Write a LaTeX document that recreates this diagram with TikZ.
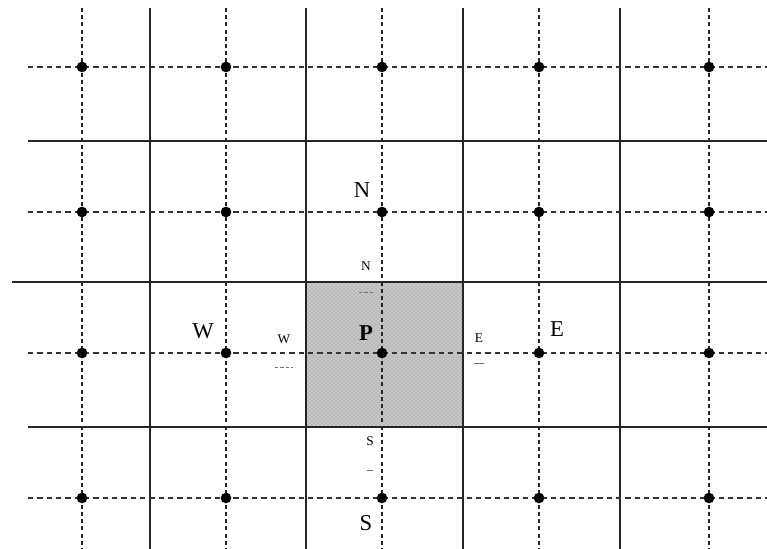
\documentclass[tikz,border=0pt]{standalone}
\usepackage{fontspec}
\setmainfont{Liberation Serif}
\usetikzlibrary{positioning,patterns}
\tikzset{
  gridline/.style={line width=1.3pt, draw=black!85},
  vdash/.style={line width=1.7pt, draw=black!85, dash pattern=on 3pt off 2.4pt},
  hdash/.style={line width=1pt, draw=black!80, dash pattern=on 4pt off 3pt},
  cellfill/.style={fill=black!22},
  cellhatch/.style={pattern=crosshatch dots, pattern color=black!45},
  gpoint/.style={circle, fill=black, inner sep=0pt, minimum size=8pt},
  biglabel/.style={font=\fontsize{17}{17}\selectfont, inner sep=0pt},
  smalllabel/.style={font=\fontsize{10}{10}\selectfont, inner sep=0pt},
  facebar/.style={line width=0.6pt, draw=black!55, dash pattern=on 2.5pt off 1.5pt}
}
\begin{document}
\begin{tikzpicture}[x=0.75pt, y=-0.75pt]
    \useasboundingbox (0,0) rectangle (767,549);
    % control volume around P
    \fill[cellfill] (306,283) rectangle (463,427);
    \fill[cellhatch] (306,283) rectangle (463,427);

    % cell faces
    \foreach \x in {150,306,463,620}
      \draw[gridline] (\x,8) -- (\x,549);
    \draw[gridline] (28,141) -- (767,141);
    \draw[gridline] (12,282) -- (767,282);
    \draw[gridline] (28,427) -- (767,427);

    % grid lines through the nodes
    \foreach \x in {82,226,382,539,709}
      \draw[vdash] (\x,8) -- (\x,549);
    \foreach \y in {67,212,353,498}
      \draw[hdash] (28,\y) -- (767,\y);

    % grid points
    \foreach \x in {82,226,382,539,709}
      \foreach \y in {67,212,353,498}
        \node[gpoint] at (\x,\y) {};
    \coordinate (P) at (382,353);

    % node labels
    \node[biglabel] (lN) at (362,190) {N};
    \node[biglabel] (lW) at (203,331) {W};
    \node[biglabel, font=\fontsize{17}{17}\selectfont\bfseries] (lP) at (366,333) {P};
    \node[biglabel] (lE) at (557,329) {E};
    \node[biglabel] (lS) at (366,523) {S};

    % face labels
    \node[smalllabel] (fn) at (366,266) {N};
    \node[smalllabel] (fw) at (284,339) {W};
    \node[smalllabel] (fe) at (479,338) {E};
    \node[smalllabel] (fs) at (370,441) {S};
    \draw[facebar] (359,292) -- (373,292);
    \draw[facebar] (275,367) -- (293,367);
    \draw[facebar, solid] (474,363) -- (484,363);
    \draw[facebar, solid] (367,470) -- (373,470);
\end{tikzpicture}
\end{document}
